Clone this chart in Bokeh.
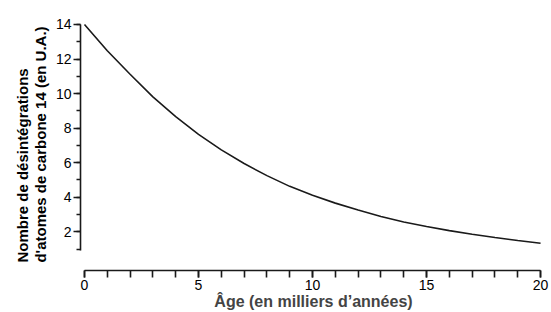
from bokeh.plotting import figure
from bokeh.models import SingleIntervalTicker, Range1d, Title
from bokeh.embed import file_html
from bokeh.resources import INLINE

# Data
ages = [0, 1, 2, 3, 4, 5, 6, 7, 8, 9, 10, 11, 12, 13, 14, 15, 16, 17, 18, 19, 20]
desintegrations = [14.0, 12.48, 11.12, 9.81, 8.66, 7.64, 6.74, 5.95, 5.25, 4.63, 4.12,
                   3.66, 3.26, 2.89, 2.57, 2.31, 2.07, 1.86, 1.67, 1.5, 1.34]
x_label = "Âge (en milliers d’années)"
y_label = "Nombre de désintégrations\nd'atomes de carbone 14 (en U.A.)"

FONT = "Liberation Sans"

p = figure(width=551, height=312, output_backend="svg", toolbar_location=None,
           x_range=Range1d(-0.175, 20.26), y_range=Range1d(-0.239, 14.344),
           min_border_left=80, min_border_right=5, min_border_top=18, min_border_bottom=40)
p.outline_line_color = None
p.xgrid.visible = False
p.ygrid.visible = False
p.background_fill_color = "white"
p.border_fill_color = "white"

p.line(ages, desintegrations, line_color="#1a1a1a", line_width=1.6)

xa = p.xaxis[0]
xa.ticker = SingleIntervalTicker(interval=5, num_minor_ticks=5)
xa.bounds = (0, 20)
xa.major_tick_in = 0
xa.major_tick_out = 7
xa.minor_tick_in = 0
xa.minor_tick_out = 7
xa.axis_line_width = 1.6
xa.axis_line_color = "#1a1a1a"
xa.major_tick_line_width = 1.6
xa.minor_tick_line_width = 1.6
xa.major_tick_line_color = "#1a1a1a"
xa.minor_tick_line_color = "#1a1a1a"
xa.axis_label = x_label
xa.axis_label_text_font = FONT
xa.axis_label_text_font_style = "bold"
xa.axis_label_text_font_size = "16px"
xa.axis_label_standoff = 0
xa.major_label_text_font = FONT
xa.major_label_text_font_size = "14px"
xa.major_label_standoff = 2
xa.major_label_text_color = "black"

ya = p.yaxis[0]
ya.ticker = SingleIntervalTicker(interval=2, num_minor_ticks=2)
ya.bounds = (0.9, 14)
ya.major_tick_in = 0
ya.major_tick_out = 7
ya.minor_tick_in = 0
ya.minor_tick_out = 4
ya.axis_line_width = 1.6
ya.axis_line_color = "#1a1a1a"
ya.major_tick_line_width = 1.6
ya.minor_tick_line_width = 1.6
ya.major_tick_line_color = "#1a1a1a"
ya.minor_tick_line_color = "#1a1a1a"
ya.major_label_text_font = FONT
ya.major_label_text_font_size = "14px"
ya.major_label_standoff = 2
ya.major_label_text_color = "black"

ytitle = Title(text=y_label, align="center", offset=6, standoff=6,
               text_font=FONT, text_font_style="bold", text_font_size="15px",
               text_color="black", text_line_height=1.1)
p.add_layout(ytitle, "left")

open("out.html", "w").write(file_html(p, INLINE))
